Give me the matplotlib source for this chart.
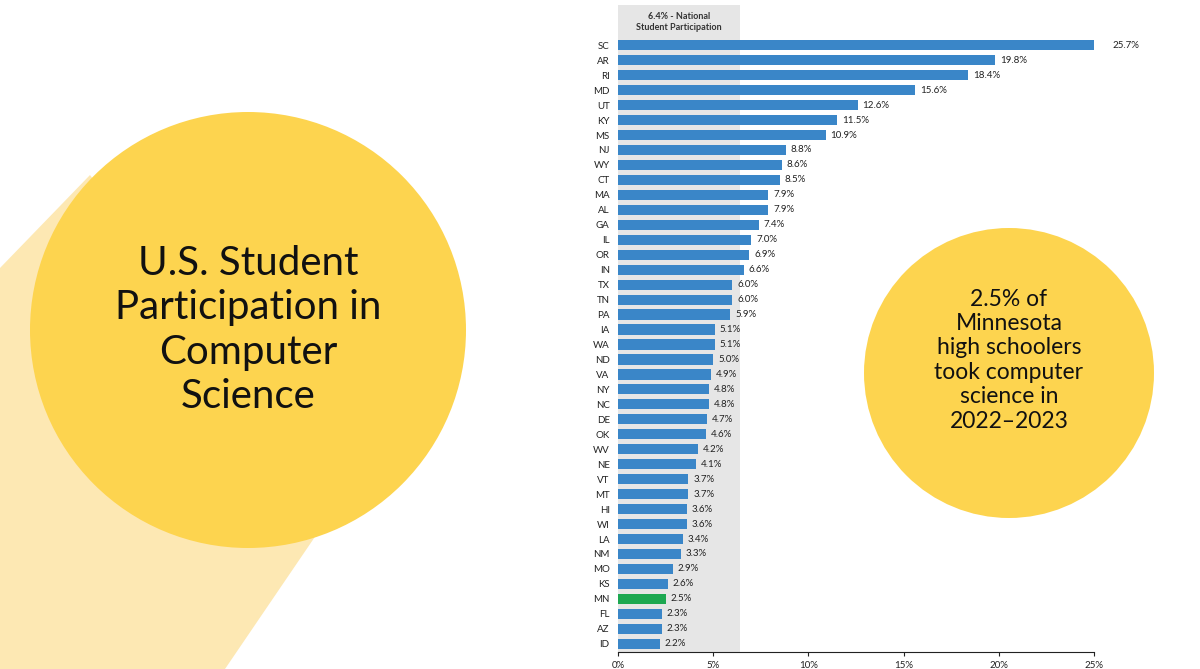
import matplotlib
matplotlib.use("Agg")
import matplotlib.pyplot as plt
from matplotlib.patches import Circle, Polygon, Rectangle

plt.rcParams["font.family"] = ["Lato", "DejaVu Sans"]

states = ["SC", "AR", "RI", "MD", "UT", "KY", "MS", "NJ", "WY", "CT", "MA", "AL", "GA", "IL",
          "OR", "IN", "TX", "TN", "PA", "IA", "WA", "ND", "VA", "NY", "NC", "DE", "OK", "WV",
          "NE", "VT", "MT", "HI", "WI", "LA", "NM", "MO", "KS", "MN", "FL", "AZ", "ID"]
values = [25.7, 19.8, 18.4, 15.6, 12.6, 11.5, 10.9, 8.8, 8.6, 8.5, 7.9, 7.9, 7.4, 7.0,
          6.9, 6.6, 6.0, 6.0, 5.9, 5.1, 5.1, 5.0, 4.9, 4.8, 4.8, 4.7, 4.6, 4.2,
          4.1, 3.7, 3.7, 3.6, 3.6, 3.4, 3.3, 2.9, 2.6, 2.5, 2.3, 2.3, 2.2]
national = 6.4
highlight = "MN"
xticks = [0, 5, 10, 15, 20, 25]

YELLOW = "#FDD44F"
BEAM = "#FDE8B3"
BLUE = "#3A86C8"
GREEN = "#1DA851"
GREY = "#E6E6E6"

fig = plt.figure(figsize=(12, 6.69), dpi=100)

# background decoration in pixel coordinates
bg = fig.add_axes([0, 0, 1, 1])
bg.set_xlim(0, 1200)
bg.set_ylim(669, 0)
bg.axis("off")
bg.add_patch(Polygon([(0, 268), (90, 175), (340, 500), (225, 669), (0, 669)],
                     color=BEAM, lw=0))
bg.add_patch(Circle((248, 330), 218, color=YELLOW, lw=0))
bg.add_patch(Circle((1009, 373), 145, color=YELLOW, lw=0))
bg.text(248, 330, "U.S. Student\nParticipation in\nComputer\nScience", ha="center",
        va="center", fontsize=29, linespacing=1.25, color="#111111")
bg.text(1009, 360, "2.5% of\nMinnesota\nhigh schoolers\ntook computer\nscience in\n2022\u20132023",
        ha="center", va="center", fontsize=16.5, linespacing=1.2, color="#111111")
bg.add_patch(Rectangle((618, 5), 122, 40, color=GREY, lw=0))
bg.text(679, 22, "6.4% - National\nStudent Participation", ha="center", va="center",
        fontsize=6.5, fontweight="bold", color="#333333")

ax = fig.add_axes([618 / 1200, 17 / 669, 476 / 1200, (652 - 37) / 669])
ax.patch.set_alpha(0)
ypos = list(range(len(states)))
ax.axvspan(0, national, color=GREY, lw=0, zorder=0)
colors = [GREEN if s == highlight else BLUE for s in states]
ax.barh(ypos, values, height=0.68, color=colors, zorder=2)
for y, v in zip(ypos, values):
    ax.text(v + 0.25, y, f"{v:.1f}%", va="center", fontsize=7, color="#222222")
ax.set_yticks(ypos)
ax.set_yticklabels(states, fontsize=7, color="#222222")
ax.set_xticks(xticks)
ax.set_xticklabels([f"{t}%" for t in xticks], fontsize=7, color="#222222")
ax.set_xlim(0, 25)
ax.set_ylim(len(states) - 0.45, -0.55)
ax.tick_params(axis="y", length=0, pad=6)
ax.tick_params(axis="x", length=3, color="#222222")
for side in ["top", "right", "left"]:
    ax.spines[side].set_visible(False)
ax.spines["bottom"].set_color("#222222")

fig.savefig("out.png", dpi=100)
